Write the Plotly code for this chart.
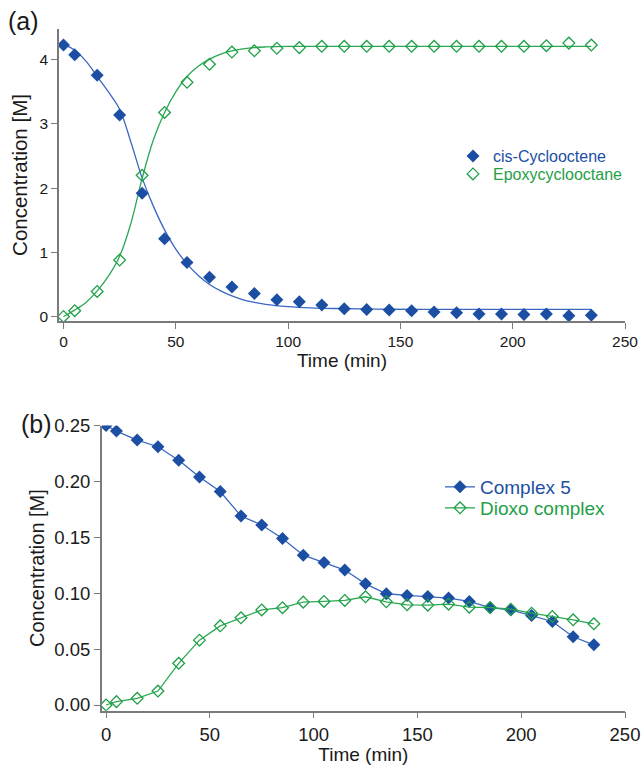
import plotly.graph_objects as go

W, H = 641, 765

# ---------------- data: panel (a) ----------------
time_a = [0, 5, 15, 25, 35, 45, 55, 65, 75, 85, 95, 105, 115, 125, 135, 145,
          155, 165, 175, 185, 195, 205, 215, 225, 235]
cyclooctene = [4.23, 4.08, 3.76, 3.14, 1.92, 1.21, 0.84, 0.61, 0.46, 0.36, 0.26,
               0.23, 0.18, 0.12, 0.11, 0.10, 0.09, 0.07, 0.06, 0.04, 0.04, 0.03,
               0.04, 0.01, 0.02]
epoxide = [0.00, 0.09, 0.39, 0.88, 2.20, 3.18, 3.65, 3.93, 4.12, 4.14, 4.18, 4.19,
           4.21, 4.21, 4.21, 4.21, 4.21, 4.21, 4.21, 4.21, 4.21, 4.21, 4.22, 4.26, 4.23]

# fitted curves
fit_time = [0, 5, 10, 15, 20, 25, 30, 35, 40, 45, 50, 55, 60, 65, 70, 75, 80, 85,
            90, 100, 110, 120, 140, 160, 200, 235]
fit_cyclooctene = [4.24, 4.15, 3.98, 3.74, 3.50, 3.23, 2.72, 2.16, 1.72, 1.35, 1.05,
                   0.82, 0.64, 0.50, 0.40, 0.32, 0.26, 0.22, 0.19, 0.155, 0.135,
                   0.125, 0.115, 0.112, 0.11, 0.11]
fit_epoxide = [0.00, 0.10, 0.22, 0.40, 0.63, 0.94, 1.45, 2.15, 2.75, 3.18, 3.50, 3.74,
               3.90, 4.01, 4.09, 4.14, 4.17, 4.19, 4.20, 4.21, 4.21, 4.21, 4.21,
               4.21, 4.21, 4.21]

# ---------------- data: panel (b) ----------------
time_b = time_a
complex5 = [0.250, 0.245, 0.237, 0.231, 0.219, 0.204, 0.191, 0.169, 0.161, 0.149,
            0.134, 0.1275, 0.1207, 0.1084, 0.0995, 0.098, 0.097, 0.0956, 0.0926,
            0.087, 0.085, 0.080, 0.0747, 0.061, 0.0538]
dioxo = [0.000, 0.003, 0.006, 0.0125, 0.0373, 0.058, 0.0708, 0.078, 0.085, 0.087,
         0.092, 0.0926, 0.0935, 0.0968, 0.0923, 0.0896, 0.0893, 0.0902, 0.0875,
         0.0872, 0.0857, 0.0821, 0.0792, 0.0762, 0.0726]

x_ticks = [0, 50, 100, 150, 200, 250]
y_ticks_a = [0, 1, 2, 3, 4]
y_ticks_b = [0.00, 0.05, 0.10, 0.15, 0.20, 0.25]

BLUE = "#1c4fa3"
BLUE_LINE = "#3a68c2"
GREEN = "#1fa048"
GREEN_LINE = "#2aa852"
AXIS = "#7a7a7a"
FONT = "Liberation Sans, Arial, sans-serif"

fig = go.Figure()

# panel (a)
fig.add_trace(go.Scatter(x=fit_time, y=fit_cyclooctene, mode="lines", line=dict(color=BLUE_LINE, width=1.3, shape="spline"),
                         showlegend=False, xaxis="x", yaxis="y", hoverinfo="skip"))
fig.add_trace(go.Scatter(x=fit_time, y=fit_epoxide, mode="lines", line=dict(color=GREEN_LINE, width=1.3, shape="spline"),
                         showlegend=False, xaxis="x", yaxis="y", hoverinfo="skip"))
fig.add_trace(go.Scatter(x=time_a, y=cyclooctene, mode="markers",
                         marker=dict(symbol="diamond", size=10, color=BLUE, line=dict(width=0)),
                         name=f'<span style="color:{BLUE}">cis-Cyclooctene</span>',
                         xaxis="x", yaxis="y", legend="legend"))
fig.add_trace(go.Scatter(x=time_a, y=epoxide, mode="markers",
                         marker=dict(symbol="diamond-open", size=9, color=GREEN, line=dict(width=1.3, color=GREEN)),
                         name=f'<span style="color:{GREEN}">Epoxycyclooctane</span>',
                         xaxis="x", yaxis="y", legend="legend3"))

# panel (b)
fig.add_trace(go.Scatter(x=time_b, y=complex5, mode="lines+markers",
                         line=dict(color=BLUE_LINE, width=1.3),
                         marker=dict(symbol="diamond", size=10, color=BLUE, line=dict(width=0)),
                         name=f'<span style="color:{BLUE}">Complex 5</span>',
                         xaxis="x2", yaxis="y2", legend="legend2"))
fig.add_trace(go.Scatter(x=time_b, y=dioxo, mode="lines+markers",
                         line=dict(color=GREEN_LINE, width=1.3),
                         marker=dict(symbol="diamond-open", size=9, color=GREEN, line=dict(width=1.3, color=GREEN)),
                         name=f'<span style="color:{GREEN}">Dioxo complex</span>',
                         xaxis="x2", yaxis="y2", legend="legend4"))

axis_common = dict(showgrid=False, zeroline=False, showline=True, linecolor=AXIS, linewidth=1.5,
                   ticks="outside", ticklen=6, tickwidth=1.2, tickcolor=AXIS, mirror=False,
                   automargin=False)


def leg(xpx, ypx, size):
    return dict(x=xpx / W, y=1 - ypx / H, xanchor="left", yanchor="middle", bgcolor="rgba(0,0,0,0)",
                font=dict(size=size), tracegroupgap=0, itemwidth=30, borderwidth=0)


fig.update_layout(
    width=W, height=H,
    margin=dict(l=0, r=0, t=0, b=0, autoexpand=False),
    paper_bgcolor="white", plot_bgcolor="white",
    font=dict(family=FONT, color="#1a1a1a"),
    xaxis=dict(domain=[59 / W, 625 / W], range=[-2, 250], tickvals=x_ticks,
               tickfont=dict(size=15.5), anchor="y",
               title=dict(text="Time (min)", font=dict(size=19), standoff=0), **axis_common),
    yaxis=dict(domain=[1 - 321 / H, 1 - 29 / H], range=[-0.07, 4.48], tickvals=y_ticks_a,
               tickfont=dict(size=15.5), anchor="x",
               title=dict(text="Concentration [M]", font=dict(size=20.5), standoff=6), **axis_common),
    xaxis2=dict(domain=[101.7 / W, 625 / W], range=[-2.1, 250], tickvals=x_ticks,
                tickfont=dict(size=18.5), anchor="y2",
                title=dict(text="Time (min)", font=dict(size=19), standoff=1), **axis_common),
    yaxis2=dict(domain=[1 - 710.7 / H, 1 - 425.5 / H], range=[-0.0051, 0.25], tickvals=y_ticks_b,
                ticktext=[f"{v:.2f}" for v in y_ticks_b],
                tickfont=dict(size=18.5), anchor="x2",
                title=dict(text="Concentration [M]", font=dict(size=20), standoff=4), **axis_common),
    legend=leg(453, 156, 16),
    legend3=leg(453, 174, 16),
    legend2=leg(440, 487, 19),
    legend4=leg(440, 508, 19),
    annotations=[
        dict(text="(a)", x=6 / W, y=1 - 21 / H, xref="paper", yref="paper", xanchor="left", yanchor="middle",
             showarrow=False, font=dict(size=25, color="#1a1a1a")),
        dict(text="(b)", x=19 / W, y=1 - 424 / H, xref="paper", yref="paper", xanchor="left", yanchor="middle",
             showarrow=False, font=dict(size=25, color="#1a1a1a")),
    ],
)

fig.write_html("out.html", config={"displayModeBar": False},
               post_script="document.body.style.margin='0';document.body.style.overflow='hidden';")
